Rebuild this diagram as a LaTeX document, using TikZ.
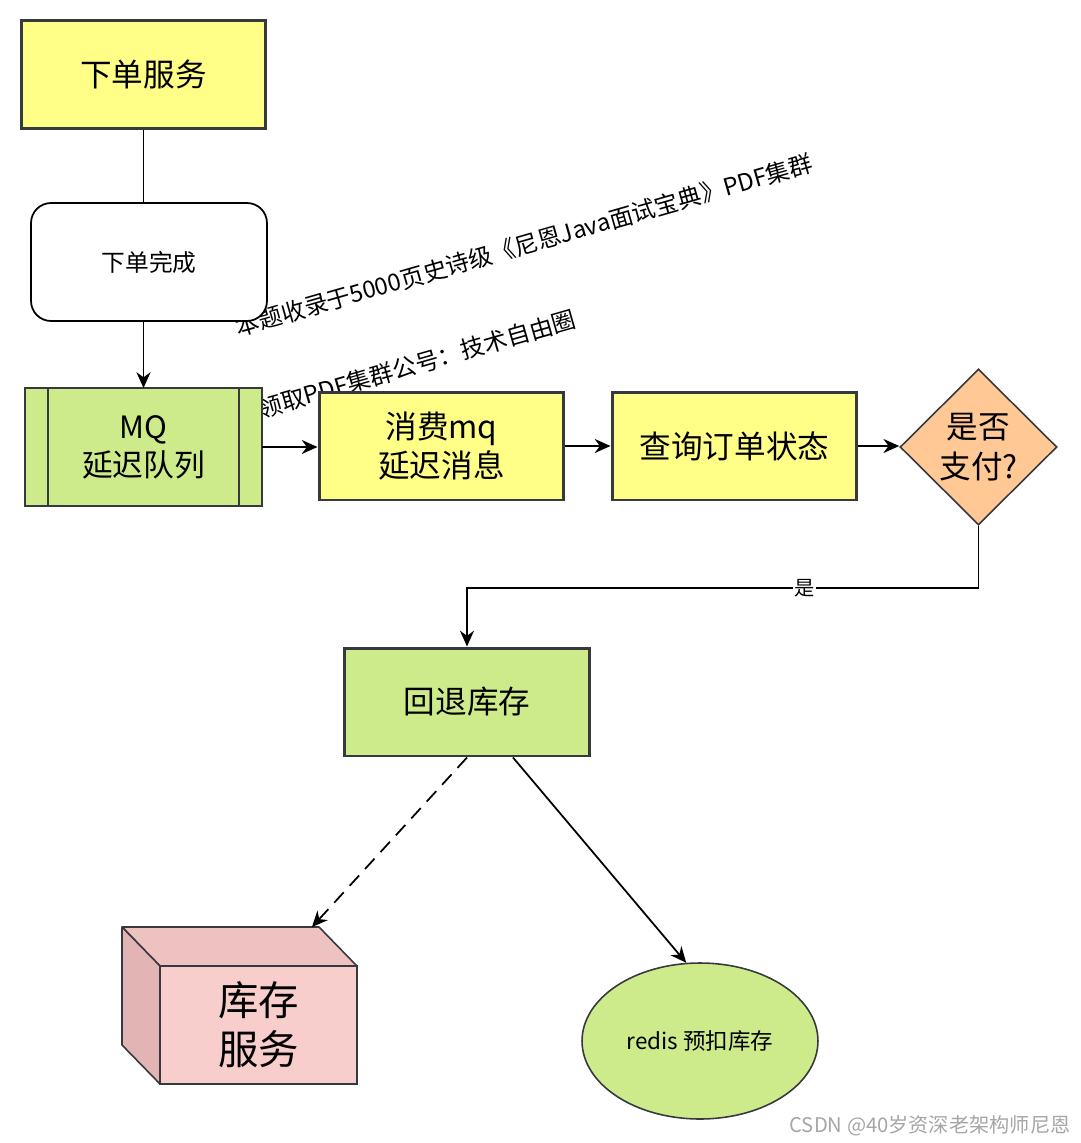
\documentclass[tikz,border=0pt]{standalone}
\usepackage{fontspec}
\setmainfont{Noto Sans CJK SC}
\usetikzlibrary{arrows.meta,shapes.geometric}

\definecolor{yellowfill}{HTML}{FFFF88}
\definecolor{greenfill}{HTML}{CDEB8B}
\definecolor{orangefill}{HTML}{FFC895}
\definecolor{pinkfill}{HTML}{F8CECC}
\definecolor{pinktop}{HTML}{EEC2C1}
\definecolor{pinkside}{HTML}{E2B4B3}
\definecolor{edgegray}{HTML}{36393D}

\tikzset{
  servbox/.style={draw=edgegray, line width=1.7pt, fill=yellowfill, minimum width=4.9cm,
    minimum height=2.16cm, align=center, font=\fontsize{18}{22}\selectfont},
  flow/.style={draw=black, line width=1pt, -{Stealth[length=9pt,width=8pt]}},
  lbl/.style={fill=white, inner sep=1pt, font=\fontsize{11.5}{12}\selectfont},
  wmtext/.style={rotate=16, inner sep=0pt, font=\fontsize{13.5}{14}\selectfont}
}

\begin{document}
\begin{tikzpicture}[x=0.02cm, y=-0.02cm]
    % Marco de la imagen (en pixeles)
    \useasboundingbox (0,0) rectangle (1080,1143);

    % Textos inclinados de fondo
    \node[wmtext] (wmone) at (524,245) {本题收录于5000页史诗级《尼恩Java面试宝典》PDF集群};
    \node[wmtext] (wmtwo) at (417,364) {领取PDF集群公号：技术自由圈};

    % Servicio de pedido y fin del pedido
    \node[servbox] (order) at (143.5,74.5) {下单服务};
    \node[draw=black, line width=1pt, fill=white, rounded corners=0.4cm, minimum width=4.72cm,
      minimum height=2.36cm, font=\fontsize{13.5}{16}\selectfont] (done) at (149,262) {下单完成};

    % Cola MQ con retardo
    \node[draw=edgegray, line width=0.9pt, fill=greenfill, outer sep=0pt, minimum width=4.74cm,
      minimum height=2.36cm, align=center, font=\fontsize{17.5}{21.5}\selectfont] (mq) at (143.5,447) {MQ\\延迟队列};
    \draw[edgegray, line width=0.9pt] ([xshift=0.46cm]mq.north west) -- ([xshift=0.46cm]mq.south west);
    \draw[edgegray, line width=0.9pt] ([xshift=-0.46cm]mq.north east) -- ([xshift=-0.46cm]mq.south east);

    % Consumo y consulta
    \node[servbox] (consume) at (441.5,446) {消费mq\\延迟消息};
    \node[servbox] (query) at (734.5,446) {查询订单状态};

    % Decision de pago
    \node[diamond, aspect=1, draw=edgegray, line width=0.9pt, fill=orangefill, inner sep=0pt,
      minimum width=3.14cm, minimum height=3.12cm, align=center,
      font=\fontsize{18}{22.5}\selectfont] (paid) at (978.5,447) {是否\\支付?};

    % Devolver inventario
    \node[servbox, fill=greenfill] (back) at (467,702) {回退库存};

    % Caja 3D del servicio de inventario
    \node[draw=edgegray, line width=0.9pt, fill=pinkfill, outer sep=0pt, minimum width=3.94cm,
      minimum height=2.36cm, align=center, font=\fontsize{23}{28}\selectfont] (stock) at (258.5,1025) {库存\\服务};
    \filldraw[fill=pinktop, draw=edgegray, line width=0.9pt, line join=round]
      (stock.north west) -- ++(-38,-39) -- ++(197,0) -- (stock.north east) -- cycle;
    \filldraw[fill=pinkside, draw=edgegray, line width=0.9pt, line join=round]
      (stock.north west) -- ++(-38,-39) -- ++(0,118) -- (stock.south west) -- cycle;
    \coordinate (stocktop) at ([shift={(-45,-39)}]stock.north east);

    % Redis
    \node[ellipse, draw=edgegray, line width=0.9pt, fill=greenfill, inner sep=0pt, minimum width=4.72cm,
      minimum height=3.12cm, font=\fontsize{12.8}{14}\selectfont] (redis) at (700,1041) {redis 预扣库存};

    % Flechas
    \draw[line width=1pt] (order.south) -- (order.south |- done.north);
    \draw[flow] (order.south |- done.south) -- (order.south |- mq.north);
    \draw[flow] (mq.east) -- (consume.west |- mq.east);
    \draw[flow] (consume.east) -- (query.west);
    \draw[flow] (query.east) -- (paid.west |- query.east);
    \draw[flow] (paid.south) -- ++(0,62) -| node[pos=0.17, lbl] {是} (back.north);
    \draw[flow, dash pattern=on 8pt off 5pt] (back.south) -- (stocktop);
    \draw[flow] ([xshift=0.92cm]back.south) -- (redis.100);

    % Marca de agua inferior
    \node[text=black!35, font=\fontsize{11.5}{12}\selectfont] (csdn) at (930,1126) {CSDN @40岁资深老架构师尼恩};
\end{tikzpicture}
\end{document}
